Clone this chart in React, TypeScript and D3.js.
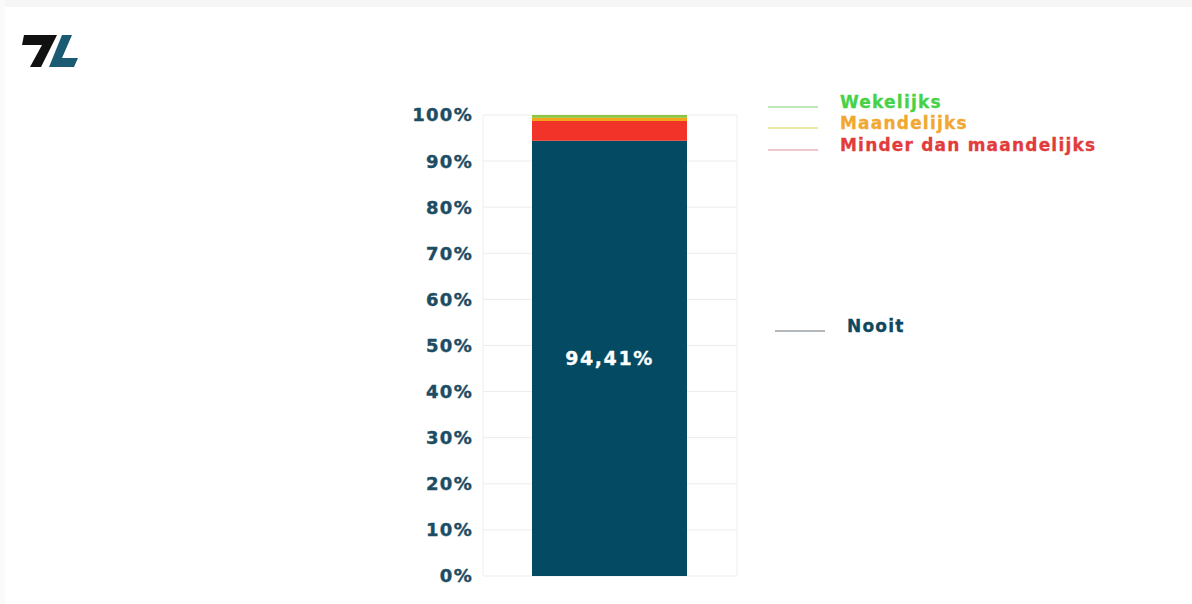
import React from "react";
import * as d3 from "d3";

const seriesNames = ["Nooit", "Minder dan maandelijks", "Maandelijks", "Wekelijks"];
const seriesValues = [94.41, 4.29, 0.7, 0.6];
const seriesColors = ["#034a62", "#f2332a", "#f5a51c", "#8cc63f"];
const legendTextColors = ["#0e4760", "#e23b3b", "#f0a830", "#46d246"];
const legendLineColors = ["#9aa0a6", "#e8b4bc", "#e6e08a", "#a8e0a0"];
const tickValues = [0, 10, 20, 30, 40, 50, 60, 70, 80, 90, 100];
const categories = ["Totaal"];

const W = 1192;
const H = 604;

export default function App() {
  const y = d3.scaleLinear().domain([0, 100]).range([576, 115]);
  const stackData = [Object.fromEntries(seriesNames.map((n, i) => [n, seriesValues[i]]))];
  const stacked = d3.stack<any>().keys(seriesNames)(stackData as any);
  const bx = 532;
  const bw = 155;
  const font = "'DejaVu Sans', Verdana, sans-serif";

  const legendY: Record<string, number> = {
    Wekelijks: 102,
    Maandelijks: 123,
    "Minder dan maandelijks": 145,
    Nooit: 326,
  };

  return (
    <svg width={W} height={H} style={{ position: "absolute", left: 0, top: 0, background: "#fff" }}>
      <rect x={0} y={0} width={W} height={7} fill="#f6f6f6" />
      <rect x={0} y={0} width={5} height={H} fill="#fafafa" />
      {/* logo */}
      <g>
        <polygon points="24,35 57,35 52,45 41,67 30,67 42,45 22,45" fill="#111" />
        <polygon points="49,67 62,35 72,35 62,58 78,58 74,67" fill="#1a5a73" />
      </g>
      {/* grid */}
      {tickValues.map((t) => (
        <line key={"g" + t} x1={483} x2={737} y1={y(t)} y2={y(t)} stroke="#ececec" strokeWidth={1} />
      ))}
      <line x1={483} x2={483} y1={y(100)} y2={y(0)} stroke="#eeeeee" />
      <line x1={737} x2={737} y1={y(100)} y2={y(0)} stroke="#eeeeee" />
      {/* ticks */}
      {tickValues.map((t) => (
        <text
          key={"t" + t}
          x={473}
          y={y(t)}
          dy="0.36em"
          textAnchor="end"
          fontFamily={font}
          fontWeight="bold"
          fontSize={18}
          letterSpacing={1.3}
          fill="#1d4d63"
          stroke="#1d4d63"
          strokeWidth={0.4}
        >
          {t}%
        </text>
      ))}
      {/* bars */}
      {stacked.map((s, i) => (
        <g key={s.key}>
          {s.map((d, j) => (
            <rect
              key={j}
              x={bx}
              width={bw}
              y={y(d[1])}
              height={y(d[0]) - y(d[1])}
              fill={seriesColors[i]}
            />
          ))}
        </g>
      ))}
      <text
        x={bx + bw / 2}
        y={y(seriesValues[0] / 2)}
        dy="0.36em"
        textAnchor="middle"
        fontFamily={font}
        fontWeight="bold"
        fontSize={19}
        letterSpacing={1.6}
        fill="#ffffff"
        stroke="#ffffff"
        strokeWidth={0.3}
      >
        {seriesValues[0].toFixed(2).replace(".", ",")}%
      </text>
      {/* legend */}
      {seriesNames.map((n, i) => {
        const ly = legendY[n];
        const isNooit = n === "Nooit";
        const lx = isNooit ? 775 : 768;
        const tx = isNooit ? 847 : 840;
        return (
          <g key={"l" + n}>
            <line x1={lx} x2={lx + 50} y1={ly + 5} y2={ly + 5} stroke={legendLineColors[i]} strokeWidth={1.5} />
            <text
              x={tx}
              y={ly}
              dy="0.36em"
              fontFamily={font}
              fontWeight="bold"
              fontSize={17}
              letterSpacing={1.2}
              fill={legendTextColors[i]}
              stroke={legendTextColors[i]}
              strokeWidth={0.3}
            >
              {n}
            </text>
          </g>
        );
      })}
    </svg>
  );
}
